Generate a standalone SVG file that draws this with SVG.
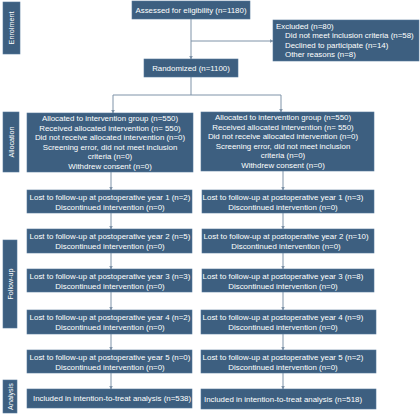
<svg xmlns="http://www.w3.org/2000/svg" width="420" height="420" viewBox="0 0 420 420">
<defs>
<style>
.box{fill:#3d5f80;stroke:#56789a;stroke-width:0.6}
.side{fill:#3d5f80;stroke:#56789a;stroke-width:0.6}
.t{font-family:"Liberation Sans",Arial,sans-serif;font-size:7.9px;fill:#ffffff;text-anchor:middle}
.s{font-family:"Liberation Sans",Arial,sans-serif;font-size:7.2px;fill:#ffffff;text-anchor:middle}
.tl{font-family:"Liberation Sans",Arial,sans-serif;font-size:7.9px;fill:#ffffff;text-anchor:start}
.ln{fill:none;stroke:#7f93a8;stroke-width:1}
</style>
<marker id="ah" markerWidth="4" markerHeight="4" refX="3.5" refY="2" orient="auto" markerUnits="userSpaceOnUse">
<path d="M0,0 L4,2 L0,4 Z" fill="#7f93a8"/>
</marker>
</defs>
<rect width="420" height="420" fill="#ffffff"/>

<g id="connectors">
<path class="ln" d="M191,19 V59" marker-end="url(#ah)"/>
<path class="ln" d="M191,41 H273" marker-end="url(#ah)"/>
<path class="ln" d="M191,77 V95"/>
<path class="ln" d="M113,95 H281"/>
<path class="ln" d="M113,95 V113" marker-end="url(#ah)"/>
<path class="ln" d="M281,95 V112" marker-end="url(#ah)"/>
<path class="ln" d="M111,172 V190" marker-end="url(#ah)"/>
<path class="ln" d="M111,213 V229" marker-end="url(#ah)"/>
<path class="ln" d="M111,253 V269" marker-end="url(#ah)"/>
<path class="ln" d="M111,292 V310" marker-end="url(#ah)"/>
<path class="ln" d="M111,334 V350" marker-end="url(#ah)"/>
<path class="ln" d="M111,373 V389" marker-end="url(#ah)"/>
<path class="ln" d="M283,171 V190" marker-end="url(#ah)"/>
<path class="ln" d="M283,213 V229" marker-end="url(#ah)"/>
<path class="ln" d="M283,253 V269" marker-end="url(#ah)"/>
<path class="ln" d="M283,292 V310" marker-end="url(#ah)"/>
<path class="ln" d="M283,334 V350" marker-end="url(#ah)"/>
<path class="ln" d="M283,373 V389" marker-end="url(#ah)"/>
</g>

<g id="label-enrolment"><rect class="side" x="3" y="2" width="17" height="52"/><text class="s" transform="translate(14,28) rotate(-90)">Enrolment</text></g>
<g id="label-allocation"><rect class="side" x="3" y="112" width="16" height="60"/><text class="s" transform="translate(13.5,142) rotate(-90)">Allocation</text></g>
<g id="label-followup"><rect class="side" x="3" y="240" width="14" height="88"/><text class="s" transform="translate(12.5,284) rotate(-90)">Follow-up</text></g>
<g id="label-analysis"><rect class="side" x="3" y="380" width="14" height="33"/><text class="s" transform="translate(12.5,396.5) rotate(-90)">Analysis</text></g>

<g id="assessed"><rect class="box" x="132" y="1" width="118" height="18"/><text class="t" x="191" y="12.8">Assessed for eligibility (n=1180)</text></g>
<g id="excluded"><rect class="box" x="273" y="20" width="146" height="41"/>
<text class="tl" x="276" y="28.5">Excluded (n=80)</text>
<text class="tl" x="285" y="38.4">Did not meet inclusion criteria (n=58)</text>
<text class="tl" x="285" y="47.8">Declined to participate (n=14)</text>
<text class="tl" x="285" y="57.1">Other reasons (n=8)</text></g>
<g id="randomized"><rect class="box" x="144" y="59" width="94" height="18"/><text class="t" x="191" y="70.8">Randomized (n=1100)</text></g>

<g id="alloc-left"><rect class="box" x="27" y="113" width="166" height="59"/>
<text class="t" x="110" y="121.2">Allocated to intervention group (n=550)</text>
<text class="t" x="110" y="130.7">Received allocated intervention (n= 550)</text>
<text class="t" x="110" y="140.2">Did not receive allocated intervention (n=0)</text>
<text class="t" x="110" y="149.7">Screening error, did not meet inclusion</text>
<text class="t" x="110" y="159.2">criteria (n=0)</text>
<text class="t" x="110" y="168.7">Withdrew consent (n=0)</text></g>
<g id="alloc-right"><rect class="box" x="201" y="112" width="173" height="59"/>
<text class="t" x="283" y="120.2">Allocated to intervention group (n=550)</text>
<text class="t" x="283" y="129.7">Received allocated intervention (n= 550)</text>
<text class="t" x="283" y="139.2">Did not receive allocated intervention (n=0)</text>
<text class="t" x="283" y="148.7">Screening error, did not meet inclusion</text>
<text class="t" x="283" y="158.2">criteria (n=0)</text>
<text class="t" x="283" y="167.7">Withdrew consent (n=0)</text></g>

<g id="l-y1"><rect class="box" x="27" y="190" width="165" height="23"/><text class="t" x="110" y="199.7">Lost to follow-up at postoperative year 1 (n=2)</text><text class="t" x="110" y="209.7">Discontinued intervention (n=0)</text></g>
<g id="l-y2"><rect class="box" x="27" y="229" width="165" height="24"/><text class="t" x="110" y="239.2">Lost to follow-up at postoperative year 2 (n=5)</text><text class="t" x="110" y="249.2">Discontinued intervention (n=0)</text></g>
<g id="l-y3"><rect class="box" x="27" y="269" width="165" height="23"/><text class="t" x="110" y="278.7">Lost to follow-up at postoperative year 3 (n=3)</text><text class="t" x="110" y="288.7">Discontinued intervention (n=0)</text></g>
<g id="l-y4"><rect class="box" x="27" y="310" width="165" height="24"/><text class="t" x="110" y="320.2">Lost to follow-up at postoperative year 4 (n=2)</text><text class="t" x="110" y="330.2">Discontinued intervention (n=0)</text></g>
<g id="l-y5"><rect class="box" x="27" y="350" width="165" height="23"/><text class="t" x="110" y="359.7">Lost to follow-up at postoperative year 5 (n=0)</text><text class="t" x="110" y="369.7">Discontinued intervention (n=0)</text></g>
<g id="l-itt"><rect class="box" x="27" y="389" width="165" height="19"/><text class="t" x="112" y="401.2">Included in intention-to-treat analysis (n=538)</text></g>

<g id="r-y1"><rect class="box" x="202" y="190" width="172" height="23"/><text class="t" x="283" y="199.7">Lost to follow-up at postoperative year 1 (n=3)</text><text class="t" x="283" y="209.7">Discontinued intervention (n=0)</text></g>
<g id="r-y2"><rect class="box" x="202" y="229" width="172" height="24"/><text class="t" x="286" y="239.2">Lost to follow-up at postoperative year 2 (n=10)</text><text class="t" x="286" y="249.2">Discontinued intervention (n=0)</text></g>
<g id="r-y3"><rect class="box" x="202" y="269" width="172" height="23"/><text class="t" x="283" y="278.7">Lost to follow-up at postoperative year 3 (n=8)</text><text class="t" x="283" y="288.7">Discontinued intervention (n=0)</text></g>
<g id="r-y4"><rect class="box" x="201" y="310" width="175" height="24"/><text class="t" x="283" y="320.2">Lost to follow-up at postoperative year 4 (n=9)</text><text class="t" x="283" y="330.2">Discontinued intervention (n=0)</text></g>
<g id="r-y5"><rect class="box" x="201" y="350" width="175" height="23"/><text class="t" x="283" y="359.7">Lost to follow-up at postoperative year 5 (n=2)</text><text class="t" x="283" y="369.7">Discontinued intervention (n=0)</text></g>
<g id="r-itt"><rect class="box" x="201" y="389" width="175" height="20"/><text class="t" x="283" y="401.7">Included in intention-to-treat analysis (n=518)</text></g>
</svg>
